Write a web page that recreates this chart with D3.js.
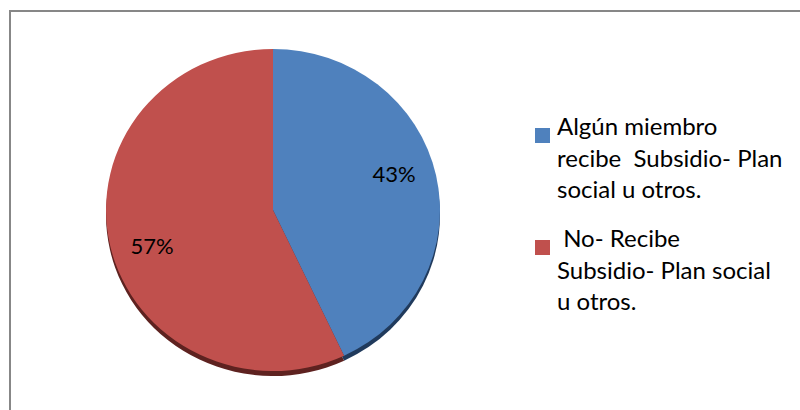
<!DOCTYPE html>
<html>
<head>
<meta charset="utf-8">
<script src="https://cdn.jsdelivr.net/npm/d3@7/dist/d3.min.js"></script>
<style>
  html, body { margin: 0; padding: 0; background: #fff; }
  svg { display: block; }
  text { font-family: Lato, "Open Sans", "Liberation Sans", sans-serif; fill: #000; white-space: pre; }
</style>
</head>
<body>
<svg id="chart" width="800" height="410"></svg>
<script>
// Household survey: share of households receiving a subsidy or social plan
const categories = [
  "Algún miembro recibe  Subsidio- Plan social u otros.",
  " No- Recibe Subsidio- Plan social u otros."
];
const values = [43, 57];
const legendLines = [
  ["Algún miembro", "recibe  Subsidio- Plan", "social u otros."],
  [" No- Recibe", "Subsidio- Plan social", "u otros."]
];
const colors = ["#4F81BD", "#C0504D"];
const rimColors = ["#203a5c", "#5e2220"];

const W = 800, H = 410;
const svg = d3.select("#chart");

// outer frame
svg.append("rect")
  .attr("x", 10).attr("y", 11)
  .attr("width", W).attr("height", H)
  .attr("fill", "#fff")
  .attr("stroke", "#878787")
  .attr("stroke-width", 2);

// pie geometry (slightly tilted disc)
const cx = 273, cy = 210, rx = 167, ry = 161, depth = 5;

const pie = d3.pie().sort(null).value(d => d);
const arcs = pie(values);
const arc = d3.arc().innerRadius(0).outerRadius(rx);

const color = d3.scaleOrdinal().domain(d3.range(values.length)).range(colors);
const rim = d3.scaleOrdinal().domain(d3.range(values.length)).range(rimColors);

// side edge of the disc
const side = svg.append("g")
  .attr("transform", `translate(${cx},${cy + depth}) scale(1,${ry / rx})`);
side.selectAll("path")
  .data(arcs)
  .join("path")
  .attr("d", arc)
  .attr("fill", (d, i) => rim(i));

// top face
const face = svg.append("g")
  .attr("transform", `translate(${cx},${cy}) scale(1,${ry / rx})`);
face.selectAll("path")
  .data(arcs)
  .join("path")
  .attr("d", arc)
  .attr("fill", (d, i) => color(i));

// percentage labels, placed on an inner ellipse at each slice's mid-angle
const total = d3.sum(values);
const labelRx = 124, labelRy = 165;
svg.append("g")
  .selectAll("text")
  .data(arcs)
  .join("text")
  .attr("transform", d => {
    const a = (d.startAngle + d.endAngle) / 2;
    return `translate(${cx + labelRx * Math.sin(a)},${cy - labelRy * Math.cos(a)})`;
  })
  .attr("text-anchor", "middle")
  .attr("dy", "0.36em")
  .attr("font-size", 22)
  .text(d => Math.round(d.data / total * 100) + "%");

// legend
const legend = svg.append("g").attr("transform", "translate(535,0)");
const legendTop = [128, 240];
const lineGap = 31.5;
legendLines.forEach((lines, i) => {
  const g = legend.append("g").attr("transform", `translate(0,${legendTop[i]})`);
  g.append("rect")
    .attr("x", 0).attr("y", 0)
    .attr("width", 15).attr("height", 15)
    .attr("fill", color(i));
  lines.forEach((t, j) => {
    g.append("text")
      .attr("x", 22)
      .attr("y", 7 + j * lineGap)
      .attr("font-size", 24)
      .text(t);
  });
});
</script>
</body>
</html>
